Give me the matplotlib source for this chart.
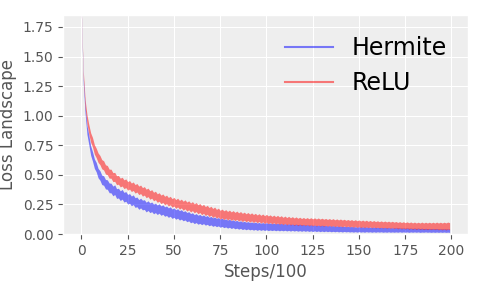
import numpy as np
import matplotlib
matplotlib.use("Agg")
import matplotlib.pyplot as plt
from matplotlib.lines import Line2D
from matplotlib.ticker import MultipleLocator, FormatStrFormatter

# mean loss per logged step (one value per 100 steps)
hermite_mean = [
    1.850, 1.300, 1.050, 0.880, 0.795, 0.705, 0.655, 0.595, 0.565, 0.515,
    0.495, 0.458, 0.452, 0.421, 0.418, 0.390, 0.389, 0.364, 0.375, 0.342,
    0.346, 0.324, 0.336, 0.311, 0.318, 0.294, 0.301, 0.280, 0.290, 0.266,
    0.272, 0.250, 0.262, 0.245, 0.249, 0.228, 0.240, 0.222, 0.230, 0.212,
    0.221, 0.205, 0.216, 0.198, 0.207, 0.190, 0.197, 0.181, 0.190, 0.172,
    0.181, 0.165, 0.174, 0.158, 0.166, 0.151, 0.158, 0.143, 0.150, 0.134,
    0.141, 0.126, 0.135, 0.121, 0.128, 0.116, 0.125, 0.112, 0.119, 0.106,
    0.113, 0.101, 0.108, 0.097, 0.104, 0.092, 0.099, 0.088, 0.094, 0.084,
    0.091, 0.080, 0.087, 0.077, 0.083, 0.073, 0.080, 0.070, 0.076, 0.068,
    0.074, 0.066, 0.071, 0.064, 0.070, 0.062, 0.068, 0.061, 0.067, 0.060,
    0.066, 0.059, 0.064, 0.058, 0.063, 0.057, 0.062, 0.056, 0.061, 0.055,
    0.060, 0.054, 0.059, 0.053, 0.058, 0.052, 0.057, 0.051, 0.056, 0.050,
    0.055, 0.049, 0.054, 0.048, 0.053, 0.047, 0.052, 0.046, 0.051, 0.045,
    0.050, 0.045, 0.049, 0.044, 0.048, 0.043, 0.047, 0.042, 0.046, 0.041,
    0.045, 0.040, 0.044, 0.040, 0.043, 0.039, 0.042, 0.038, 0.041, 0.037,
    0.041, 0.037, 0.040, 0.036, 0.040, 0.036, 0.039, 0.035, 0.039, 0.035,
    0.038, 0.035, 0.038, 0.034, 0.037, 0.034, 0.037, 0.033, 0.036, 0.033,
    0.036, 0.033, 0.036, 0.032, 0.035, 0.032, 0.035, 0.031, 0.034, 0.031,
    0.034, 0.031, 0.034, 0.030, 0.033, 0.030, 0.033, 0.030, 0.032, 0.029,
    0.032, 0.029, 0.032, 0.028, 0.031, 0.028, 0.031, 0.028, 0.030, 0.028,
]
hermite_std = [
    0.010, 0.030, 0.035, 0.038, 0.040, 0.040, 0.040, 0.040, 0.040, 0.040,
    0.040, 0.040, 0.040, 0.040, 0.040, 0.041, 0.041, 0.041, 0.041, 0.041,
    0.041, 0.041, 0.041, 0.041, 0.041, 0.041, 0.041, 0.041, 0.041, 0.041,
    0.041, 0.041, 0.041, 0.041, 0.041, 0.041, 0.041, 0.041, 0.041, 0.041,
    0.040, 0.040, 0.040, 0.040, 0.040, 0.040, 0.040, 0.040, 0.040, 0.040,
    0.040, 0.040, 0.040, 0.040, 0.040, 0.039, 0.039, 0.039, 0.039, 0.039,
    0.039, 0.038, 0.038, 0.038, 0.038, 0.037, 0.037, 0.037, 0.037, 0.036,
    0.036, 0.036, 0.036, 0.035, 0.035, 0.035, 0.035, 0.034, 0.034, 0.034,
    0.034, 0.033, 0.033, 0.033, 0.033, 0.032, 0.032, 0.032, 0.032, 0.032,
    0.031, 0.031, 0.031, 0.031, 0.031, 0.031, 0.030, 0.030, 0.030, 0.030,
    0.030, 0.030, 0.030, 0.029, 0.029, 0.029, 0.029, 0.029, 0.029, 0.028,
    0.028, 0.028, 0.028, 0.028, 0.027, 0.027, 0.027, 0.027, 0.027, 0.027,
    0.026, 0.026, 0.026, 0.026, 0.026, 0.026, 0.025, 0.025, 0.025, 0.025,
    0.025, 0.025, 0.024, 0.024, 0.024, 0.024, 0.024, 0.023, 0.023, 0.023,
    0.023, 0.023, 0.022, 0.022, 0.022, 0.022, 0.022, 0.022, 0.021, 0.021,
    0.021, 0.021, 0.021, 0.021, 0.020, 0.020, 0.020, 0.020, 0.020, 0.020,
    0.019, 0.019, 0.019, 0.019, 0.019, 0.019, 0.018, 0.018, 0.018, 0.018,
    0.018, 0.018, 0.017, 0.017, 0.017, 0.017, 0.017, 0.017, 0.016, 0.016,
    0.016, 0.016, 0.016, 0.016, 0.016, 0.015, 0.015, 0.015, 0.015, 0.015,
    0.015, 0.015, 0.015, 0.014, 0.014, 0.014, 0.014, 0.014, 0.014, 0.014,
]
relu_mean = [
    1.850, 1.350, 1.100, 0.970, 0.885, 0.815, 0.775, 0.715, 0.685, 0.645,
    0.625, 0.590, 0.580, 0.546, 0.540, 0.510, 0.510, 0.481, 0.483, 0.455,
    0.458, 0.435, 0.443, 0.421, 0.429, 0.407, 0.416, 0.395, 0.404, 0.382,
    0.391, 0.369, 0.378, 0.356, 0.365, 0.343, 0.352, 0.330, 0.339, 0.317,
    0.326, 0.304, 0.313, 0.293, 0.303, 0.283, 0.293, 0.273, 0.283, 0.263,
    0.273, 0.254, 0.266, 0.247, 0.258, 0.239, 0.251, 0.232, 0.243, 0.224,
    0.236, 0.217, 0.228, 0.209, 0.220, 0.201, 0.213, 0.194, 0.205, 0.186,
    0.197, 0.178, 0.190, 0.171, 0.182, 0.163, 0.174, 0.159, 0.170, 0.155,
    0.166, 0.151, 0.162, 0.148, 0.159, 0.144, 0.155, 0.140, 0.151, 0.137,
    0.148, 0.134, 0.145, 0.131, 0.142, 0.128, 0.139, 0.125, 0.136, 0.122,
    0.133, 0.120, 0.130, 0.117, 0.128, 0.115, 0.126, 0.113, 0.123, 0.110,
    0.121, 0.108, 0.119, 0.106, 0.116, 0.104, 0.114, 0.102, 0.112, 0.101,
    0.110, 0.100, 0.109, 0.099, 0.108, 0.098, 0.107, 0.097, 0.106, 0.096,
    0.104, 0.095, 0.103, 0.094, 0.102, 0.093, 0.101, 0.091, 0.099, 0.090,
    0.098, 0.089, 0.097, 0.088, 0.095, 0.087, 0.094, 0.085, 0.093, 0.084,
    0.091, 0.082, 0.090, 0.081, 0.089, 0.080, 0.088, 0.079, 0.087, 0.078,
    0.085, 0.077, 0.084, 0.076, 0.083, 0.075, 0.082, 0.074, 0.081, 0.073,
    0.079, 0.071, 0.078, 0.070, 0.077, 0.069, 0.076, 0.068, 0.075, 0.067,
    0.074, 0.066, 0.073, 0.066, 0.073, 0.065, 0.072, 0.065, 0.072, 0.065,
    0.072, 0.065, 0.072, 0.064, 0.071, 0.064, 0.071, 0.064, 0.071, 0.066,
]
relu_std = [
    0.010, 0.030, 0.035, 0.038, 0.040, 0.040, 0.040, 0.040, 0.040, 0.040,
    0.039, 0.039, 0.039, 0.039, 0.039, 0.038, 0.038, 0.038, 0.038, 0.038,
    0.037, 0.037, 0.037, 0.037, 0.037, 0.036, 0.036, 0.036, 0.036, 0.036,
    0.036, 0.036, 0.036, 0.036, 0.036, 0.036, 0.036, 0.036, 0.036, 0.036,
    0.036, 0.036, 0.036, 0.036, 0.036, 0.036, 0.036, 0.036, 0.036, 0.036,
    0.037, 0.037, 0.037, 0.037, 0.037, 0.038, 0.038, 0.038, 0.038, 0.038,
    0.038, 0.038, 0.038, 0.038, 0.038, 0.038, 0.038, 0.038, 0.038, 0.038,
    0.038, 0.038, 0.038, 0.037, 0.037, 0.037, 0.037, 0.037, 0.036, 0.036,
    0.036, 0.036, 0.036, 0.035, 0.035, 0.035, 0.035, 0.035, 0.034, 0.034,
    0.034, 0.034, 0.034, 0.034, 0.033, 0.033, 0.033, 0.033, 0.033, 0.033,
    0.033, 0.033, 0.032, 0.032, 0.032, 0.032, 0.032, 0.032, 0.032, 0.031,
    0.031, 0.031, 0.031, 0.031, 0.031, 0.031, 0.031, 0.031, 0.030, 0.030,
    0.030, 0.030, 0.030, 0.030, 0.030, 0.030, 0.030, 0.030, 0.030, 0.030,
    0.030, 0.030, 0.029, 0.029, 0.029, 0.029, 0.029, 0.029, 0.029, 0.029,
    0.029, 0.029, 0.028, 0.028, 0.028, 0.028, 0.028, 0.028, 0.028, 0.028,
    0.028, 0.028, 0.028, 0.028, 0.028, 0.027, 0.027, 0.027, 0.027, 0.027,
    0.027, 0.027, 0.027, 0.027, 0.027, 0.027, 0.027, 0.027, 0.027, 0.027,
    0.027, 0.027, 0.027, 0.027, 0.027, 0.027, 0.027, 0.027, 0.027, 0.027,
    0.027, 0.027, 0.027, 0.027, 0.028, 0.028, 0.028, 0.028, 0.028, 0.028,
    0.028, 0.028, 0.029, 0.029, 0.029, 0.029, 0.029, 0.030, 0.030, 0.030,
]

steps = np.arange(len(hermite_mean))
series = [("Hermite", hermite_mean, hermite_std, "b"),
          ("ReLU", relu_mean, relu_std, "r")]

plt.style.use("ggplot")
fig, ax = plt.subplots(figsize=(4.81, 2.90), dpi=100)
fig.subplots_adjust(left=0.131, right=0.973, bottom=0.193, top=0.948)
ax.set_facecolor("#EEEEEE")

handles = []
for name, mean, std, color in series:
    mean = np.array(mean)
    std = np.array(std)
    ax.fill_between(steps, mean - std, mean + std, color=color, alpha=0.5, lw=0)
    handles.append(Line2D([], [], color=color, alpha=0.5, lw=1.5, label=name))

ax.set_ylim(0.0, 1.85)
ax.yaxis.set_major_locator(MultipleLocator(0.25))
ax.yaxis.set_major_formatter(FormatStrFormatter("%.2f"))
ax.set_xlabel("Steps/100")
ax.set_ylabel("Loss Landscape")
ax.legend(handles=handles, loc="upper right", fontsize=17, labelspacing=0.45,
          frameon=False)

fig.savefig("out.png", dpi=100)
